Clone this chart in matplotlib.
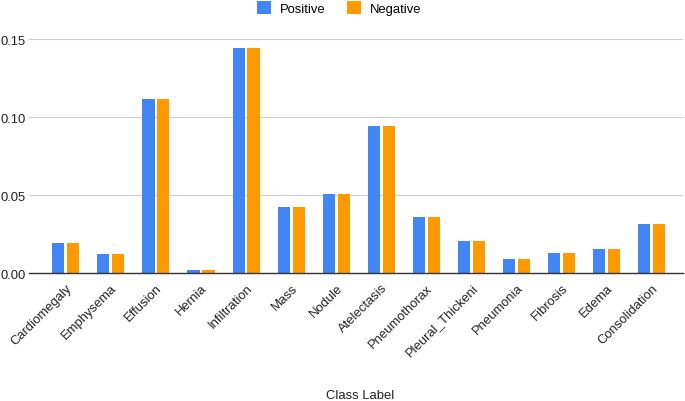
import matplotlib.pyplot as plt
import numpy as np

plt.rcParams['font.family'] = ['Liberation Sans', 'DejaVu Sans']

# data
classes = ['Cardiomegaly', 'Emphysema', 'Effusion', 'Hernia', 'Infiltration',
           'Mass', 'Nodule', 'Atelectasis', 'Pneumothorax', 'Pleural_Thickeni',
           'Pneumonia', 'Fibrosis', 'Edema', 'Consolidation']
positive = [0.0195, 0.0124, 0.1117, 0.0020, 0.1442, 0.0425, 0.0506,
            0.0944, 0.0363, 0.0203, 0.0092, 0.0132, 0.0156, 0.0316]
negative = [0.0195, 0.0124, 0.1117, 0.0020, 0.1442, 0.0425, 0.0506,
            0.0944, 0.0363, 0.0203, 0.0092, 0.0132, 0.0156, 0.0316]
yticks = [0.00, 0.05, 0.10, 0.15]

blue = '#4285F4'
orange = '#FF9900'

fig = plt.figure(figsize=(6.85, 4.02), dpi=100)
ax = fig.add_axes([0.042, 0.318, 0.955, 0.621])

x = np.arange(len(classes))
w = 0.27
ax.bar(x - w / 2 - 0.03, positive, w, color=blue, label='Positive', zorder=3)
ax.bar(x + w / 2 + 0.03, negative, w, color=orange, label='Negative', zorder=3)

ax.set_xlim(-0.82, 13.69)
ax.set_ylim(0, 0.16)
ax.set_yticks(yticks)
ax.set_yticklabels(['%.2f' % v for v in yticks], fontsize=9.4, color='#222222')
ax.set_xticks(x)
ax.set_xticklabels(classes, rotation=45, ha='right', rotation_mode='anchor',
                   fontsize=9.4, color='#222222')
ax.tick_params(length=0, pad=2)
ax.tick_params(axis='x', pad=6)
ax.grid(axis='y', color='#cccccc', linewidth=0.8, zorder=0)
for s in ['top', 'right', 'left']:
    ax.spines[s].set_visible(False)
ax.spines['bottom'].set_color('#333333')
ax.spines['bottom'].set_linewidth(1)
ax.spines['bottom'].set_zorder(4)

fig.text(0.525, 0.015, 'Class Label', ha='center', va='center', fontsize=9.4,
         color='#222222')

fig.legend(loc='center', bbox_to_anchor=(0.495, 0.978), ncol=2, frameon=False,
           fontsize=9.4, handlelength=1.1, handleheight=1.1, handletextpad=0.7,
           columnspacing=1.6)

fig.savefig('out.png', dpi=100)
